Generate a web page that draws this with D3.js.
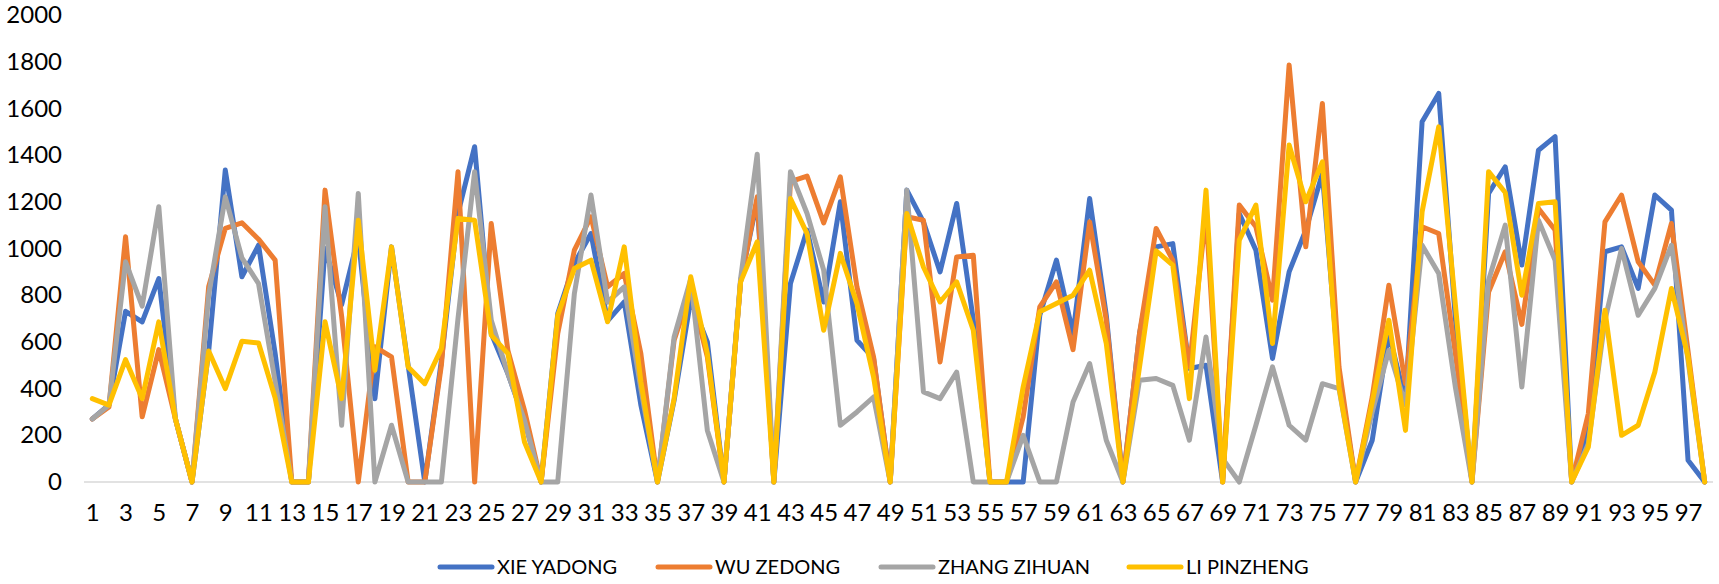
<!DOCTYPE html>
<html>
<head>
<meta charset="utf-8">
<script src="https://cdn.jsdelivr.net/npm/d3@7"></script>
<style>
  html, body { margin: 0; padding: 0; background: #fff; }
  svg { display: block; font-family: Lato, "Open Sans", sans-serif; }
</style>
</head>
<body>
<svg id="chart" width="1719" height="584"></svg>
<script>
// Categories 1..98 along the horizontal axis
const categories = Array.from({length: 98}, (_, i) => String(i + 1));
const xTickLabels = categories.filter((d, i) => i % 2 === 0);
const yTickValues = [0, 200, 400, 600, 800, 1000, 1200, 1400, 1600, 1800, 2000];

const seriesNames = ["XIE YADONG", "WU ZEDONG", "ZHANG ZIHUAN", "LI PINZHENG"];

const xieYadong = [
  270, 330, 731, 686, 871, 270, 0, 560, 1336, 879,
  1014, 550, 0, 0, 1000, 760, 1050, 357, 1007, 500,
  0, 520, 1150, 1436, 636, 464, 264, 0, 721, 936,
  1064, 690, 771, 330, 0, 350, 780, 600, 0, 860,
  1207, 0, 850, 1079, 771, 1200, 607, 530, 0, 1250,
  1114, 900, 1193, 693, 0, 0, 0, 714, 950, 636,
  1214, 714, 0, 636, 1007, 1021, 486, 500, 0, 1150,
  993, 529, 900, 1079, 1321, 450, 0, 179, 636, 350,
  1543, 1664, 700, 0, 1236, 1350, 929, 1421, 1479, 0,
  221, 986, 1007, 829, 1229, 1164, 93, 0
];

const wuZedong = [
  270, 321, 1050, 279, 567, 270, 0, 836, 1086, 1110,
  1040, 950, 0, 0, 1250, 710, 0, 579, 536, 0,
  0, 500, 1329, 0, 1107, 564, 307, 0, 636, 993,
  1136, 836, 893, 550, 0, 607, 820, 536, 0, 857,
  1221, 0, 1286, 1310, 1110, 1307, 836, 536, 0, 1136,
  1121, 514, 964, 971, 0, 0, 279, 750, 857, 567,
  1114, 693, 0, 636, 1086, 950, 493, 1150, 0, 1186,
  1093, 779, 1786, 1007, 1621, 493, 0, 364, 843, 421,
  1093, 1064, 550, 0, 814, 986, 675, 1171, 1079, 0,
  293, 1114, 1229, 943, 843, 1107, 560, 0
];

const zhangZihuan = [
  270, 329, 943, 753, 1179, 270, 0, 800, 1221, 960,
  850, 430, 0, 0, 1179, 243, 1236, 0, 243, 0,
  0, 0, 700, 1329, 693, 464, 264, 0, 0, 807,
  1229, 770, 836, 400, 0, 621, 870, 221, 0, 870,
  1404, 0, 1329, 1150, 907, 243, 300, 364, 0, 1250,
  386, 357, 471, 0, 0, 0, 200, 0, 0, 343,
  507, 179, 0, 436, 443, 414, 179, 621, 100, 0,
  243, 493, 243, 179, 421, 400, 0, 300, 564, 330,
  1014, 893, 407, 0, 864, 1100, 407, 1121, 950, 0,
  164, 693, 1000, 714, 829, 1014, 520, 0
];

const liPinzheng = [
  357, 329, 524, 357, 686, 270, 0, 561, 400, 603,
  595, 360, 0, 0, 686, 357, 1121, 479, 1007, 493,
  421, 571, 1129, 1121, 629, 550, 171, 0, 714, 914,
  950, 686, 1007, 430, 0, 357, 879, 550, 0, 857,
  1029, 0, 1214, 1064, 650, 979, 764, 450, 0, 1150,
  921, 771, 857, 650, 0, 0, 407, 729, 764, 800,
  907, 593, 0, 493, 990, 929, 357, 1250, 0, 1036,
  1186, 593, 1443, 1200, 1371, 407, 0, 343, 693, 221,
  1157, 1521, 760, 0, 1329, 1240, 800, 1193, 1200, 0,
  150, 736, 200, 243, 471, 829, 536, 0
];

const seriesValues = [xieYadong, wuZedong, zhangZihuan, liPinzheng];
const seriesColors = ["#4472C4", "#ED7D31", "#A5A5A5", "#FFC000"];

const svg = d3.select("#chart");

const plot = { left: 84, right: 1713, top: 15, bottom: 482 };

const x = d3.scalePoint()
  .domain(categories)
  .range([plot.left, plot.right])
  .padding(0.5);

const y = d3.scaleLinear()
  .domain([0, 2000])
  .range([plot.bottom, plot.top]);

// Y axis labels (no axis line, no tick marks)
const yAxis = d3.axisLeft(y).tickValues(yTickValues).tickSize(0).tickPadding(0).tickFormat(d3.format("d"));
const gy = svg.append("g")
  .attr("transform", "translate(62,0)")
  .call(yAxis);
gy.select(".domain").remove();
gy.selectAll("text")
  .attr("font-family", "Lato, sans-serif")
  .attr("font-size", 24)
  .attr("fill", "#000");

// Category axis baseline
svg.append("line")
  .attr("x1", plot.left).attr("x2", plot.right)
  .attr("y1", y(0)).attr("y2", y(0))
  .attr("stroke", "#d9d9d9")
  .attr("stroke-width", 1.5);

// Category labels on every other point
const xAxis = d3.axisBottom(x).tickValues(xTickLabels).tickSize(0).tickPadding(0);
const gx = svg.append("g")
  .attr("transform", `translate(0,${y(0) + 31})`)
  .call(xAxis);
gx.select(".domain").remove();
gx.selectAll("text")
  .attr("font-family", "Lato, sans-serif")
  .attr("font-size", 24)
  .attr("fill", "#000")
  .attr("dy", "0.35em");

// Series lines
const line = d3.line()
  .x((d, i) => x(categories[i]))
  .y(d => y(d));

svg.append("g")
  .selectAll("path")
  .data(seriesValues)
  .join("path")
  .attr("d", d => line(d))
  .attr("fill", "none")
  .attr("stroke", (d, i) => seriesColors[i])
  .attr("stroke-width", 5)
  .attr("stroke-linejoin", "round")
  .attr("stroke-linecap", "round");

// Legend
const legendX = [440, 658, 881, 1129];
const legendY = 567;
const legend = svg.append("g")
  .selectAll("g")
  .data(seriesNames)
  .join("g")
  .attr("transform", (d, i) => `translate(${legendX[i]},${legendY})`);

legend.append("line")
  .attr("x1", 0).attr("x2", 52)
  .attr("y1", 0).attr("y2", 0)
  .attr("stroke", (d, i) => seriesColors[i])
  .attr("stroke-width", 5)
  .attr("stroke-linecap", "round");

legend.append("text")
  .attr("x", 57)
  .attr("y", 0)
  .attr("dy", "0.35em")
  .attr("font-family", "Lato, sans-serif")
  .attr("font-size", 20)
  .attr("fill", "#000")
  .text(d => d);
</script>
</body>
</html>
